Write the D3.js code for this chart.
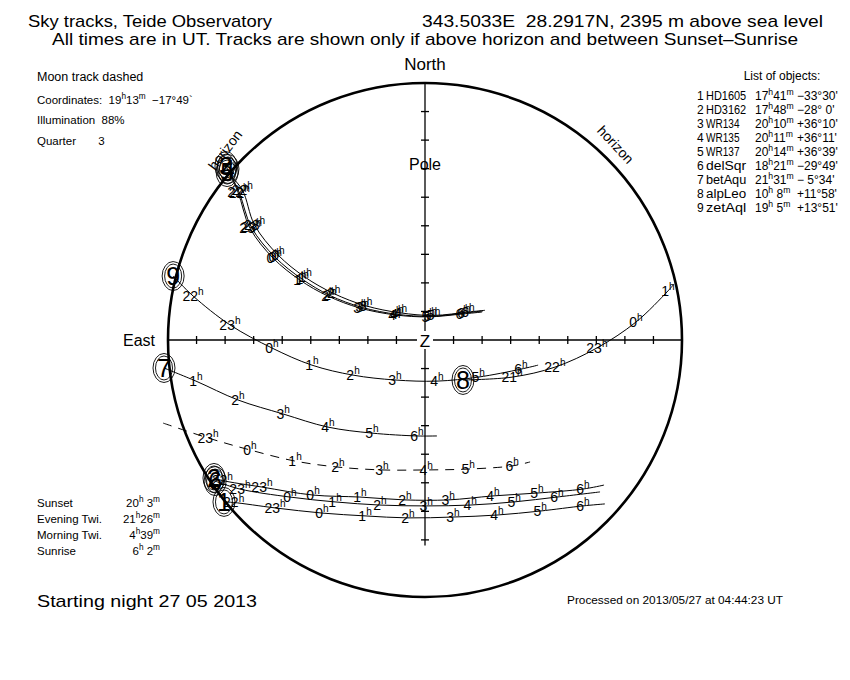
<!DOCTYPE html>
<html>
<head>
<meta charset="utf-8">
<script src="https://cdn.jsdelivr.net/npm/d3@7"></script>
<style>
body { margin: 0; background: #fff; }
text { font-family: "Liberation Sans", Arial, sans-serif; fill: #000; white-space: pre; }
</style>
</head>
<body>
<svg id="chart" width="850" height="680"></svg>
<script>
/**
 * Data.
 * Track points: [x, y, hour] in degrees of zenith distance,
 * x positive to the West (right), y positive to the North (up).
 * The first point of a track carries the object marker.
 */
var objNums = [1, 2, 3, 4, 5, 6, 7, 8, 9];
var objNames = ["HD1605", "HD3162", "WR134", "WR135", "WR137", "delSqr", "betAqu", "alpLeo", "zetAql"];
var objRA = ["17{h}41{m}", "17{h}48{m}", "20{h}10{m}", "20{h}11{m}", "20{h}14{m}", "18{h}21{m}", "21{h}31{m}", "10{h} 8{m}", "19{h} 5{m}"];
var objDec = ["\u221233\u00b030'", "\u221228\u00b0 0'", "+36\u00b010'", "+36\u00b011'", "+36\u00b039'", "\u221229\u00b049'", "\u2212 5\u00b034'", "+11\u00b058'", "+13\u00b051'"];

var trackHD1605 = [[-70.4, -56.7, null], [-67.0, -56.9, 22], [-52.5, -58.8, 23], [-36.1, -60.6, 0], [-21.0, -61.6, 1],
    [-6.0, -62.3, 2], [9.8, -62.0, 3], [25.2, -61.3, 4], [40.3, -59.9, 5], [55.3, -58.1, 6], [63.0, -57.4, null]];
var trackHD3162 = [[-73.9, -48.3, null], [-71.0, -49.2, 22], [-57.1, -51.5, 23], [-39.2, -54.3, 0], [-22.8, -55.0, 1],
    [-7.0, -56.0, 2], [8.1, -56.0, 3], [23.8, -54.6, 4], [39.2, -53.6, 5], [55.3, -52.2, 6], [62.7, -50.8, null]];
var trackWR134 = [[-69.7, 60.9, null], [-65.5, 51.8, 22], [-61.3, 39.2, 23], [-53.2, 28.7, 0], [-43.8, 21.0, 1],
    [-34.0, 15.4, 2], [-22.8, 11.2, 3], [-10.5, 8.8, 4], [1.1, 8.1, 5], [13.0, 9.1, 6], [20.0, 9.8, null]];
var trackWR135 = [[-69.0, 59.9, null], [-65.0, 51.5, 22], [-60.8, 39.5, 23], [-52.5, 29.0, 0], [-43.0, 21.3, 1],
    [-33.3, 15.6, 2], [-22.0, 11.4, 3], [-9.8, 9.0, 4], [1.8, 8.3, 5], [13.6, 9.4, 6], [20.3, 10.2, null]];
var trackWR137 = [[-69.3, 58.8, null], [-64.0, 52.6, 22], [-59.7, 40.3, 23], [-51.5, 29.8, 0], [-42.0, 22.0, 1],
    [-32.0, 16.3, 2], [-20.8, 12.0, 3], [-8.6, 9.5, 4], [3.0, 8.6, 5], [15.0, 9.8, 6], [21.0, 10.4, null]];
var trackDelSgr = [[-73.5, -49.4, null], [-64.8, -52.2, 23], [-47.3, -55.0, 0], [-31.5, -56.7, 1], [-15.8, -57.8, 2],
    [0.4, -58.1, 3], [15.8, -57.8, 4], [31.2, -56.7, 5], [46.2, -55.0, 6], [61.3, -53.2, null]];
var trackBetAqu = [[-91.4, -9.8, null], [-80.2, -14.4, 1], [-65.5, -21.0, 2], [-49.7, -25.9, 3], [-34.0, -30.5, 4],
    [-18.6, -32.6, 5], [-2.8, -33.6, 6], [4.2, -33.6, null]];
var trackAlpLeo = [[13.3, -14.0, null], [30.5, -13.0, 21], [45.5, -9.5, 22], [60.2, -2.8, 23], [73.9, 6.3, 0],
    [85.1, 17.2, 1], [87.2, 19.6, null]];
var trackZetAql = [[-88.2, 22.4, null], [-81.2, 15.4, 22], [-68.3, 5.3, 23], [-53.6, -2.8, 0], [-39.6, -8.8, 1],
    [-25.2, -12.3, 2], [-10.5, -14.0, 3], [4.2, -14.4, 4], [18.6, -13.0, 5], [33.6, -10.2, 6], [39.6, -8.8, null]];
var trackMoon = [[-91.7, -29.1, null], [-76.0, -34.3, 23], [-61.3, -38.5, 0], [-45.5, -42.4, 1], [-30.5, -44.5, 2],
    [-15.1, -45.5, 3], [0.4, -45.5, 4], [15.1, -45.2, 5], [30.5, -44.1, 6], [36.8, -42.7, null]];

var objTracks = [trackHD1605, trackHD3162, trackWR134, trackWR135, trackWR137, trackDelSgr, trackBetAqu, trackAlpLeo, trackZetAql];

var hTicks = [-80, -70, -60, -50, -40, -30, -20, -10, 10, 20, 30, 40, 50, 60, 70, 80];
var vTicks = [-70, -60, -50, -40, -30, -20, -10, 10, 20, 30, 40, 50, 60, 70, 80];
var poleZD = 61.7;

var twiLabels = ["Sunset", "Evening Twi.", "Morning Twi.", "Sunrise"];
var twiTimes = ["20{h} 3{m}", "21{h}26{m}", "4{h}39{m}", "6{h} 2{m}"];

var svg = d3.select("#chart");

// Scales: degrees of zenith distance -> pixels
var x = d3.scaleLinear().domain([-90, 90]).range([168, 682]);
var y = d3.scaleLinear().domain([-90, 90]).range([597, 83]);

/**
 * Text with superscripts written as {h}
 */
var rich = function(parent, str, size) {
    let t = parent.append("text").attr("font-size", size);
    let up = false;
    str.split(/(\{[^}]*\})/).forEach(function(p) {
        if (!p) return;
        let sup = p[0] === "{";
        let s = t.append("tspan").text(sup ? p.slice(1, -1) : p);
        if (sup) {
            s.attr("font-size", size * 0.72);
            if (!up) s.attr("dy", -size * 0.42);
        } else if (up) {
            s.attr("dy", size * 0.42);
        }
        up = sup;
    });
    return t;
};

// Horizon
svg.append("circle")
    .attr("cx", x(0)).attr("cy", y(0)).attr("r", x(90) - x(0))
    .attr("fill", "none").attr("stroke", "#000").attr("stroke-width", 2.6);

// Axes
let axes = svg.append("g").attr("stroke", "#000").attr("stroke-width", 1.3);
axes.append("line").attr("x1", x(-90)).attr("x2", x(90)).attr("y1", y(0)).attr("y2", y(0));
axes.append("line").attr("x1", x(0)).attr("x2", x(0)).attr("y1", y(90)).attr("y2", y(-72));
axes.selectAll(".ht").data(hTicks).enter().append("line")
    .attr("x1", d => x(d)).attr("x2", d => x(d))
    .attr("y1", y(0) - 4).attr("y2", y(0) + 4);
axes.selectAll(".vt").data(vTicks).enter().append("line")
    .attr("x1", x(0) - 4).attr("x2", x(0) + 4)
    .attr("y1", d => y(d)).attr("y2", d => y(d));

svg.append("rect").attr("x", x(0) - 8).attr("y", y(0) - 9).attr("width", 16).attr("height", 18).attr("fill", "#fff");
svg.append("text").attr("x", x(0)).attr("y", y(0) + 7).attr("text-anchor", "middle").attr("font-size", 17).text("Z");
svg.append("text").attr("x", x(0)).attr("y", y(poleZD) + 6).attr("text-anchor", "middle").attr("font-size", 16).text("Pole");
svg.append("text").attr("x", x(0)).attr("y", 70).attr("text-anchor", "middle").attr("font-size", 17).text("North");
svg.append("text").attr("x", 155).attr("y", 346).attr("text-anchor", "end").attr("font-size", 16).text("East");

svg.append("text").attr("font-size", 14).attr("text-anchor", "middle")
    .attr("transform", "translate(229,153)rotate(-53)").text("horizon");
svg.append("text").attr("font-size", 14).attr("text-anchor", "middle")
    .attr("transform", "translate(612,148)rotate(47)").text("horizon");

// Tracks
let line = d3.line()
    .x(d => x(d[0])).y(d => y(d[1]))
    .curve(d3.curveCatmullRom);

let tracks = svg.append("g").attr("fill", "none").attr("stroke", "#000").attr("stroke-width", 1);
objTracks.forEach(function(tr) {
    tracks.append("path").attr("d", line(tr));
});
tracks.append("path").attr("d", line(trackMoon)).attr("stroke-dasharray", "9,7");

// Hour labels
let labels = svg.append("g");
objTracks.concat([trackMoon]).forEach(function(tr) {
    tr.filter(d => d[2] !== null).forEach(function(d) {
        rich(labels, d[2] + "{h}", 14)
            .attr("x", x(d[0])).attr("y", y(d[1]) + 5)
            .attr("text-anchor", "middle");
    });
});

// Object markers
let markers = svg.append("g");
objTracks.forEach(function(tr, i) {
    let px = x(tr[0][0]), py = y(tr[0][1]);
    markers.append("ellipse").attr("cx", px).attr("cy", py).attr("rx", 8.5).attr("ry", 12)
        .attr("fill", "none").attr("stroke", "#000").attr("stroke-width", 0.9);
    markers.append("ellipse").attr("cx", px).attr("cy", py).attr("rx", 11).attr("ry", 14.5)
        .attr("fill", "none").attr("stroke", "#000").attr("stroke-width", 0.9);
    markers.append("text").attr("x", px).attr("y", py + 9).attr("text-anchor", "middle")
        .attr("font-size", 25).text(objNums[i]);
});

// Header
svg.append("text").attr("x", 28).attr("y", 27).attr("font-size", 17)
    .attr("textLength", 244).attr("lengthAdjust", "spacingAndGlyphs")
    .text("Sky tracks, Teide Observatory");
svg.append("text").attr("x", 422).attr("y", 27).attr("font-size", 17)
    .attr("textLength", 401).attr("lengthAdjust", "spacingAndGlyphs")
    .text("343.5033E  28.2917N, 2395 m above sea level");
svg.append("text").attr("x", 52).attr("y", 45).attr("font-size", 17)
    .attr("textLength", 746).attr("lengthAdjust", "spacingAndGlyphs")
    .text("All times are in UT. Tracks are shown only if above horizon and between Sunset\u2013Sunrise");

// Moon info
svg.append("text").attr("x", 37).attr("y", 81).attr("font-size", 12.5).text("Moon track dashed");
rich(svg, "Coordinates:  19{h}13{m}  \u221217\u00b049`", 11.5).attr("x", 37).attr("y", 104);
svg.append("text").attr("x", 37).attr("y", 124).attr("font-size", 11.5).text("Illumination  88%");
svg.append("text").attr("x", 37).attr("y", 145).attr("font-size", 11.5).text("Quarter       3");

// Object list
svg.append("text").attr("x", 782).attr("y", 80).attr("text-anchor", "middle").attr("font-size", 12).text("List of objects:");
objNums.forEach(function(n, i) {
    let yy = 100 + i * 14;
    svg.append("text").attr("x", 697).attr("y", yy).attr("font-size", 12).text(n);
    svg.append("text").attr("x", 706).attr("y", yy).attr("font-size", 12)
        .attr("textLength", objNames[i].length * 6.7).attr("lengthAdjust", "spacingAndGlyphs")
        .text(objNames[i]);
    rich(svg, objRA[i], 12).attr("x", 755).attr("y", yy);
    svg.append("text").attr("x", 797).attr("y", yy).attr("font-size", 12).text(objDec[i]);
});

// Sun / twilight times
twiLabels.forEach(function(lab, i) {
    let yy = 507 + i * 16;
    svg.append("text").attr("x", 37).attr("y", yy).attr("font-size", 11.5).text(lab);
    rich(svg, twiTimes[i], 11.5).attr("x", 160).attr("y", yy).attr("text-anchor", "end");
});

svg.append("text").attr("x", 37).attr("y", 607).attr("font-size", 17)
    .attr("textLength", 220).attr("lengthAdjust", "spacingAndGlyphs")
    .text("Starting night 27 05 2013");
svg.append("text").attr("x", 567).attr("y", 604).attr("font-size", 10)
    .attr("textLength", 216).attr("lengthAdjust", "spacingAndGlyphs")
    .text("Processed on 2013/05/27 at 04:44:23 UT");
</script>
</body>
</html>
